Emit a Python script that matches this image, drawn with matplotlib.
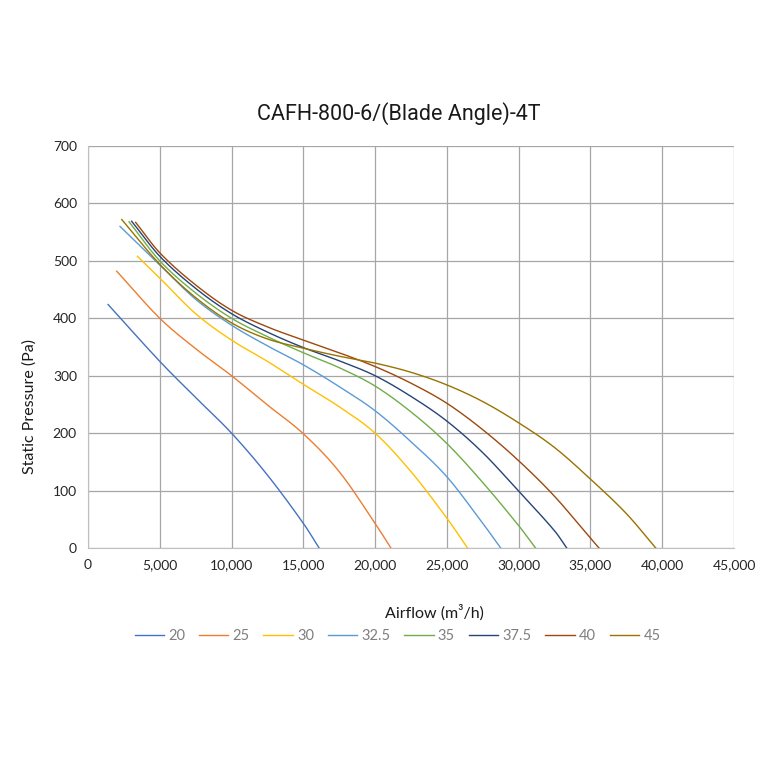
import numpy as np
import matplotlib.pyplot as plt
from matplotlib.ticker import FuncFormatter, MultipleLocator

# Blade angle curves (airflow m3/h, static pressure Pa)
angles = ['20', '25', '30', '32.5', '35', '37.5', '40', '45']

flow_20 = [1400, 5000, 7500, 10000, 12500, 15000, 16100]
pres_20 = [424, 325, 262, 200, 127, 43, 0]

flow_25 = [2000, 5000, 7500, 10000, 12500, 15000, 17500, 20000, 21100]
pres_25 = [482, 400, 347, 300, 249, 199, 133, 43, 0]

flow_30 = [3440, 5000, 7500, 10000, 12500, 15000, 17500, 20000, 22500, 25000, 26440]
pres_30 = [508, 470, 408, 362, 325, 285, 246, 200, 133, 52, 0]

flow_325 = [2230, 5000, 7500, 10000, 12500, 15000, 17500, 20000, 22500, 25000, 27500, 28750]
pres_325 = [560, 493, 433, 388, 352, 319, 281, 239, 185, 124, 43, 0]

flow_35 = [2860, 5000, 7500, 10000, 12500, 15000, 17500, 20000, 22500, 25000, 27500, 30000, 31180]
pres_35 = [568, 500, 444, 400, 368, 340, 314, 282, 237, 182, 114, 39, 0]

flow_375 = [3040, 5000, 7500, 10000, 12500, 15000, 17500, 20000, 22500, 25000, 27500, 30000, 32500, 33350]
pres_375 = [569, 508, 452, 408, 376, 349, 326, 300, 264, 221, 166, 99, 30, 0]

flow_40 = [3320, 5000, 7500, 10000, 12500, 15000, 17500, 20000, 22500, 25000, 27500, 30000, 32500, 35000, 35600]
pres_40 = [567, 514, 458, 414, 385, 362, 340, 316, 287, 252, 206, 152, 90, 17, 0]

flow_45 = [2350, 5000, 7500, 10000, 12500, 15000, 17500, 20000, 22500, 25000, 27500, 30000, 32500, 35000,
           37500, 39550]
pres_45 = [572, 494, 436, 392, 364, 348, 334, 322, 306, 284, 255, 218, 175, 120, 60, 0]

flows = [flow_20, flow_25, flow_30, flow_325, flow_35, flow_375, flow_40, flow_45]
pressures = [pres_20, pres_25, pres_30, pres_325, pres_35, pres_375, pres_40, pres_45]
colors = ['#4472C4', '#ED7D31', '#FFC000', '#5B9BD5', '#70AD47', '#264478', '#9E480E', '#997300']


def smooth(x, y, n=25):
    # cubic Hermite with central-difference slopes, drawn like Excel's smoothed line
    x = np.asarray(x, float)
    y = np.asarray(y, float)
    h = np.diff(x)
    m = np.empty_like(y)
    m[1:-1] = (y[2:] - y[:-2]) / (x[2:] - x[:-2])
    m[0] = (y[1] - y[0]) / h[0]
    m[-1] = (y[-1] - y[-2]) / h[-1]
    t = np.linspace(0, 1, n, endpoint=False)
    h00 = 2 * t ** 3 - 3 * t ** 2 + 1
    h10 = t ** 3 - 2 * t ** 2 + t
    h01 = -2 * t ** 3 + 3 * t ** 2
    h11 = t ** 3 - t ** 2
    xs, ys = [], []
    for k in range(len(x) - 1):
        xs.extend(x[k] + t * h[k])
        ys.extend(h00 * y[k] + h10 * h[k] * m[k] + h01 * y[k + 1] + h11 * h[k] * m[k + 1])
    xs.append(x[-1])
    ys.append(y[-1])
    return xs, ys


plt.rcParams['font.family'] = ['Lato', 'DejaVu Sans']

fig = plt.figure(figsize=(7.6, 7.6), dpi=100)
ax = fig.add_axes([0.1158, 0.2789, 0.85, 0.529])

for f, p, c, lab in zip(flows, pressures, colors, angles):
    sx, sy = smooth(f, p)
    ax.plot(sx, sy, color=c, lw=1.0, label=lab)

ax.set_xlim(0, 45000)
ax.set_ylim(0, 700)
ax.xaxis.set_major_locator(MultipleLocator(5000))
ax.yaxis.set_major_locator(MultipleLocator(100))
ax.xaxis.set_major_formatter(FuncFormatter(lambda v, _: f'{int(v):,}'))
ax.grid(True, color='#a6a6a6', lw=0.9)
ax.set_axisbelow(True)
for s in ['top', 'right']:
    ax.spines[s].set_visible(False)
for s in ['left', 'bottom']:
    ax.spines[s].set_color('#bfbfbf')
ax.tick_params(length=0, labelsize=10, colors='#262626', pad=8)

fig.text(0.525, 0.851, 'CAFH-800-6/(Blade Angle)-4T', fontsize=15.5, family=['Roboto', 'DejaVu Sans'],
         color='#1a1a1a', ha='center', va='center')
ax.set_ylabel('Static Pressure (Pa)', fontsize=11.5, color='#1a1a1a')
ax.yaxis.set_label_coords(-0.079, 0.351)
ax.set_xlabel('Airflow (m³/h)', fontsize=11.5, color='#1a1a1a')
ax.xaxis.set_label_coords(0.536, -0.14)

leg = fig.legend(loc='center', bbox_to_anchor=(0.523, 0.163), ncol=8, frameon=False,
                 fontsize=10.5, handlelength=2.0, columnspacing=0.95, handletextpad=0.3)
for t in leg.get_texts():
    t.set_color('#7f7f7f')

fig.savefig('out.png', dpi=100)
